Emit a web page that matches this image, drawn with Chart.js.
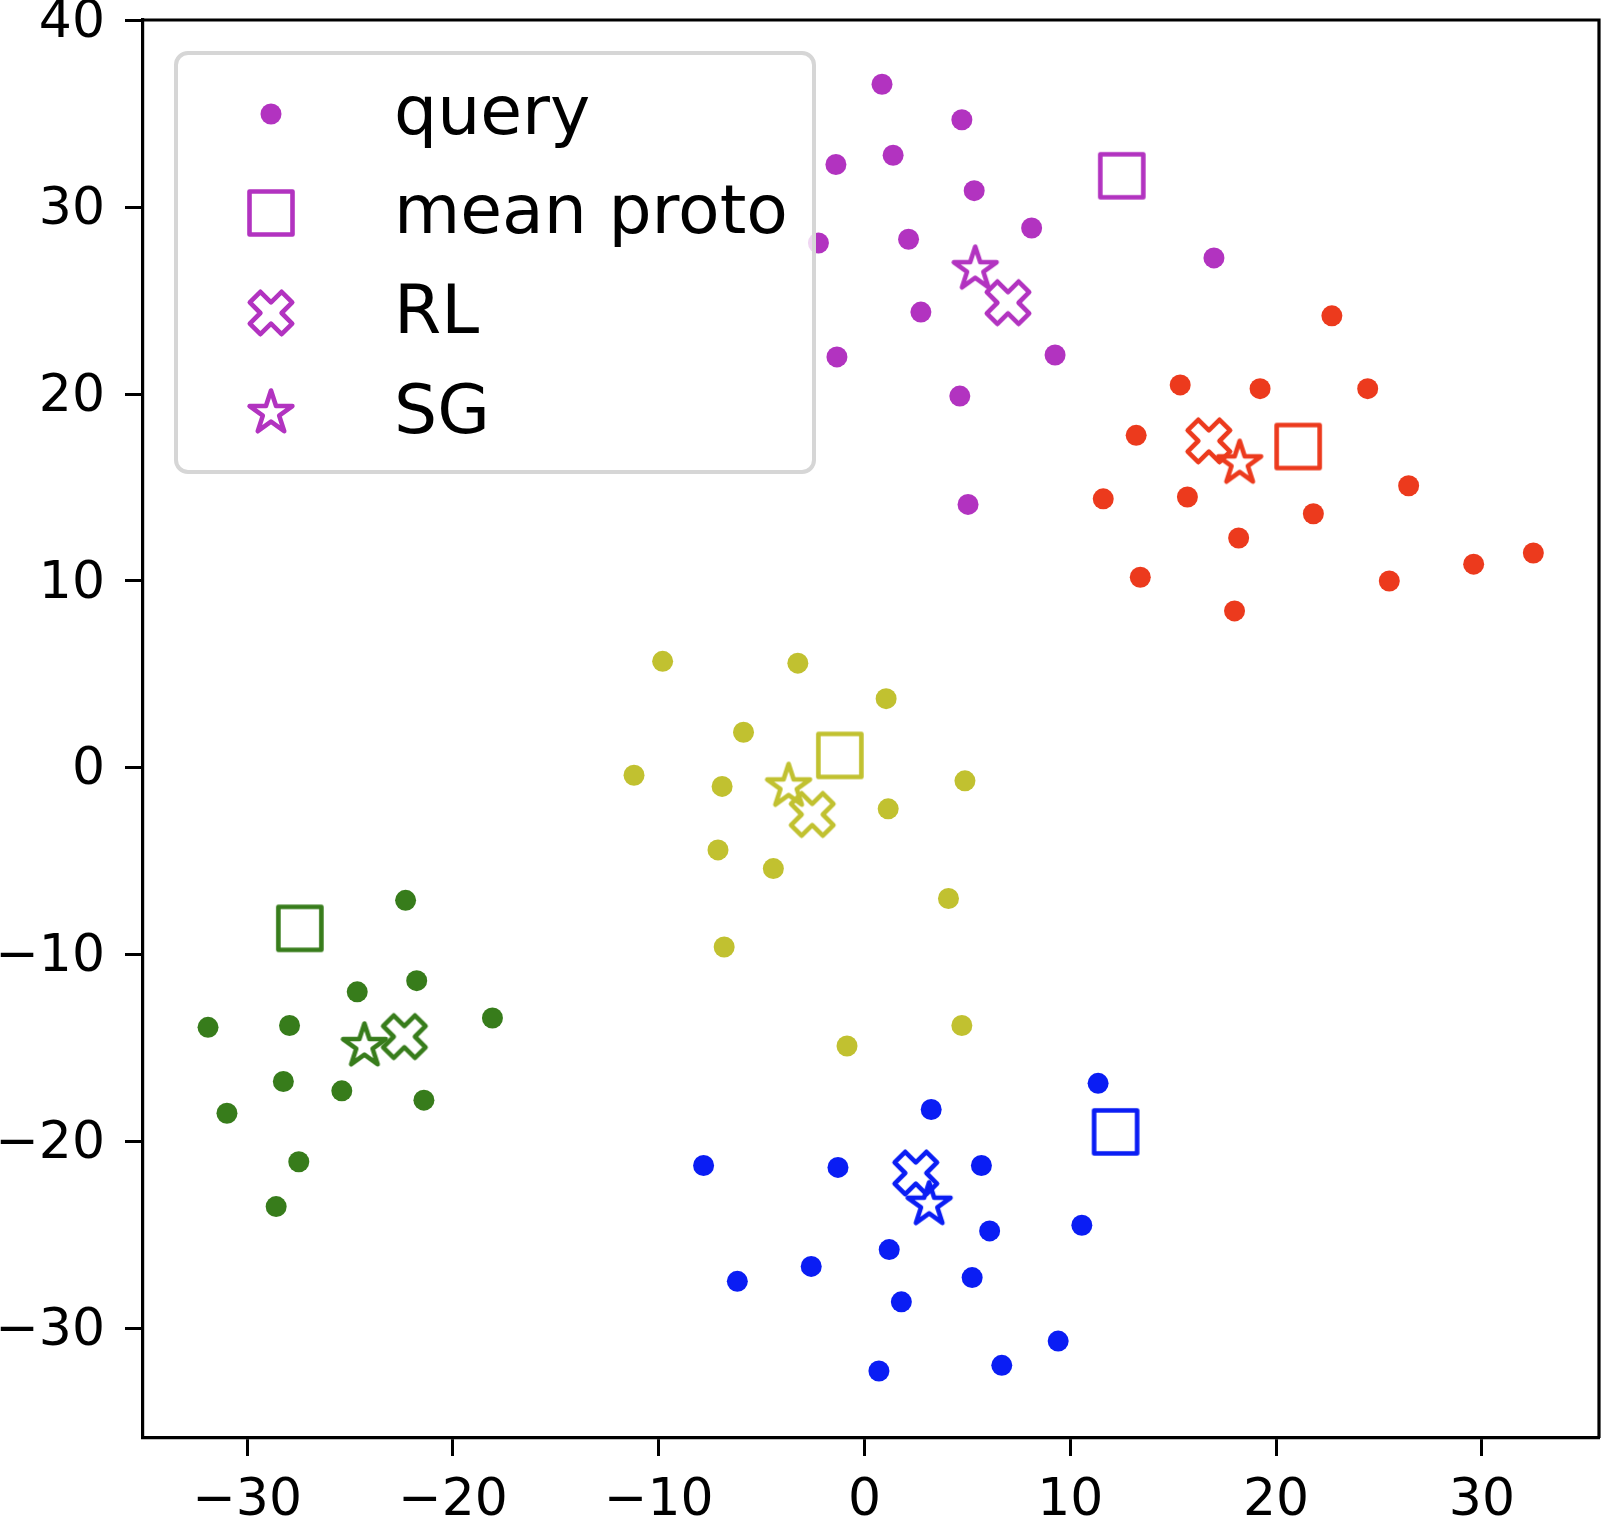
<!DOCTYPE html>
<html>
<head>
<meta charset="utf-8">
<script src="https://cdn.jsdelivr.net/npm/chart.js@4.4.0/dist/chart.umd.min.js"></script>
<style>
  html, body { margin: 0; padding: 0; background: #fff; }
</style>
</head>
<body>
<canvas id="chart" width="1604" height="1520"></canvas>
<script>
// class colours, in the order the groups were plotted
const classColors = ['#b233c0', '#ec3a1d', '#c1c130', '#377c1b', '#0a1df4'];

// query points per class
const purpleQx = [0.85, 4.73, -1.39, 1.39, 5.33, 8.12, -2.24, 2.14, 16.98, 2.74, 9.26, -1.34, 4.63, 5.03];
const purpleQy = [36.6, 34.7, 32.3, 32.8, 30.9, 28.9, 28.1, 28.3, 27.3, 24.4, 22.1, 22.0, 19.9, 14.1];
const redQx = [22.71, 15.34, 19.22, 24.45, 13.2, 11.6, 15.69, 26.44, 21.81, 18.18, 13.4, 32.5, 29.6, 25.5, 17.98];
const redQy = [24.2, 20.5, 20.3, 20.3, 17.8, 14.4, 14.5, 15.1, 13.6, 12.3, 10.2, 11.5, 10.9, 10.0, 8.4];
const oliveQx = [-9.81, -3.24, 1.05, -5.88, -11.2, -6.92, 4.88, 1.15, -7.12, -4.43, 4.08, -6.82, 4.73, -0.85];
const oliveQy = [5.7, 5.6, 3.7, 1.9, -0.4, -1.0, -0.7, -2.2, -4.4, -5.4, -7.0, -9.6, -13.8, -14.9];
const greenQx = [-22.3, -24.65, -21.76, -31.9, -27.94, -18.08, -28.24, -25.4, -21.41, -30.98, -27.49, -28.59];
const greenQy = [-7.1, -12.0, -11.4, -13.9, -13.8, -13.4, -16.8, -17.3, -17.8, -18.5, -21.1, -23.5];
const blueQx = [11.35, 3.24, -7.82, -1.29, 5.68, 10.56, 6.08, 1.2, 5.23, -2.59, -6.18, 1.79, 9.41, 6.67, 0.7];
const blueQy = [-16.9, -18.3, -21.3, -21.4, -21.3, -24.5, -24.8, -25.8, -27.3, -26.7, -27.5, -28.6, -30.7, -32.0, -32.3];

// prototypes, one per class
const meanProtoX = [12.5, 21.07, -1.2, -27.44, 12.2];
const meanProtoY = [31.7, 17.2, 0.66, -8.6, -19.5];
const rlX = [6.97, 16.73, -2.54, -22.36, 2.49];
const rlY = [24.9, 17.5, -2.5, -14.4, -21.7];
const sgX = [5.38, 18.23, -3.69, -24.3, 3.14];
const sgY = [26.7, 16.3, -1.0, -14.9, -23.4];

const xTicks = [-30, -20, -10, 0, 10, 20, 30];
const yTicks = [-30, -20, -10, 0, 10, 20, 30, 40];
const legendLabels = ['query', 'mean proto', 'RL', 'SG'];

const queryX = [purpleQx, redQx, oliveQx, greenQx, blueQx];
const queryY = [purpleQy, redQy, oliveQy, greenQy, blueQy];

const FONT = "'DejaVu Sans', 'Liberation Sans', sans-serif";
const MS = 45; // marker size in px

// hollow matplotlib-like markers drawn into small canvases
function markerCanvas(shape, color) {
  const size = 64;
  const c = document.createElement('canvas');
  c.width = size;
  c.height = size;
  const g = c.getContext('2d');
  g.translate(size / 2, size / 2);
  g.strokeStyle = color;
  g.lineWidth = 4.6;
  g.lineJoin = 'round';
  g.beginPath();
  if (shape === 'square') {
    g.rect(-21.5, -21.5, 43, 43);
  } else if (shape === 'x') {
    const u = MS / 6;
    const pts = [[-1, -3], [1, -3], [1, -1], [3, -1], [3, 1], [1, 1], [1, 3], [-1, 3], [-1, 1], [-3, 1], [-3, -1], [-1, -1]];
    const a = Math.PI / 4;
    pts.forEach((p, i) => {
      const x = (p[0] * Math.cos(a) - p[1] * Math.sin(a)) * u;
      const y = (p[0] * Math.sin(a) + p[1] * Math.cos(a)) * u;
      if (i === 0) g.moveTo(x, y); else g.lineTo(x, y);
    });
    g.closePath();
  } else if (shape === 'star') {
    const R = MS / 2, r = R * 0.381966;
    for (let k = 0; k < 10; k++) {
      const ang = -Math.PI / 2 + k * Math.PI / 5;
      const rr = k % 2 === 0 ? R : r;
      const x = rr * Math.cos(ang), y = rr * Math.sin(ang);
      if (k === 0) g.moveTo(x, y); else g.lineTo(x, y);
    }
    g.closePath();
  }
  g.stroke();
  return c;
}

const squareImgs = classColors.map(c => markerCanvas('square', c));
const xImgs = classColors.map(c => markerCanvas('x', c));
const starImgs = classColors.map(c => markerCanvas('star', c));

const datasets = [];
classColors.forEach((color, i) => {
  datasets.push({
    label: 'query',
    data: queryX[i].map((x, j) => ({ x: x, y: queryY[i][j] })),
    pointStyle: 'circle',
    pointRadius: 10.5,
    backgroundColor: color,
    borderWidth: 0
  });
  datasets.push({
    label: 'mean proto',
    data: [{ x: meanProtoX[i], y: meanProtoY[i] }],
    pointStyle: squareImgs[i],
    pointRadius: 22
  });
  datasets.push({
    label: 'RL',
    data: [{ x: rlX[i], y: rlY[i] }],
    pointStyle: xImgs[i],
    pointRadius: 22
  });
  datasets.push({
    label: 'SG',
    data: [{ x: sgX[i], y: sgY[i] }],
    pointStyle: starImgs[i],
    pointRadius: 22
  });
});

// top/right spines and the boxed legend in the upper left
const framePlugin = {
  id: 'frame',
  afterDraw(chart) {
    const ctx = chart.ctx;
    const a = chart.chartArea;
    ctx.save();
    ctx.strokeStyle = '#000';
    ctx.lineWidth = 3.2;
    ctx.beginPath();
    ctx.moveTo(a.left, a.top);
    ctx.lineTo(a.right, a.top);
    ctx.lineTo(a.right, a.bottom);
    ctx.stroke();

    // legend box
    const bx = 176, by = 53, bw = 638, bh = 419, rad = 12;
    ctx.beginPath();
    ctx.roundRect(bx, by, bw, bh, rad);
    ctx.fillStyle = 'rgba(255,255,255,0.8)';
    ctx.fill();
    ctx.strokeStyle = '#d6d6d6';
    ctx.lineWidth = 4;
    ctx.stroke();

    const rows = [114, 213, 313, 413];
    const mx = 271;
    const c0 = classColors[0];
    ctx.fillStyle = c0;
    ctx.beginPath();
    ctx.arc(mx, rows[0], 10.5, 0, Math.PI * 2);
    ctx.fill();
    [squareImgs[0], xImgs[0], starImgs[0]].forEach((img, k) => {
      ctx.drawImage(img, mx - img.width / 2, rows[k + 1] - img.height / 2);
    });

    ctx.fillStyle = '#000';
    ctx.font = '68px ' + FONT;
    ctx.textAlign = 'left';
    ctx.textBaseline = 'alphabetic';
    legendLabels.forEach((t, k) => ctx.fillText(t, 394, rows[k] + 20));
    ctx.restore();
  }
};

const fmt = v => (v < 0 ? '\u2212' + Math.abs(v) : String(v));

new Chart(document.getElementById('chart'), {
  type: 'scatter',
  data: { datasets: datasets },
  options: {
    responsive: false,
    animation: false,
    devicePixelRatio: 1,
    layout: { autoPadding: false, padding: { top: 20, right: 5, left: 0, bottom: 0 } },
    plugins: { legend: { display: false }, tooltip: { enabled: false } },
    scales: {
      x: {
        type: 'linear',
        min: -35.06,
        max: 35.69,
        afterBuildTicks: s => { s.ticks = xTicks.map(v => ({ value: v })); },
        afterFit: s => {
          s.height = 82;
          s.paddingLeft = 0;
          s.paddingRight = 0;
        },
        grid: { drawOnChartArea: false, drawTicks: true, tickLength: 18, tickWidth: 3, tickColor: '#000' },
        border: { display: true, color: '#000', width: 3.2 },
        ticks: {
          color: '#000',
          padding: 14,
          maxRotation: 0,
          font: { family: FONT, size: 52 },
          callback: v => fmt(v)
        }
      },
      y: {
        type: 'linear',
        min: -35.89,
        max: 40.04,
        afterBuildTicks: s => { s.ticks = yTicks.map(v => ({ value: v })); },
        afterFit: s => {
          s.width = 143;
          s.paddingTop = 0;
          s.paddingBottom = 0;
        },
        grid: { drawOnChartArea: false, drawTicks: true, tickLength: 18, tickWidth: 3, tickColor: '#000' },
        border: { display: true, color: '#000', width: 3.2 },
        ticks: {
          color: '#000',
          padding: 20,
          labelOffset: 3,
          font: { family: FONT, size: 52 },
          callback: v => fmt(v)
        }
      }
    }
  },
  plugins: [framePlugin]
});
</script>
</body>
</html>
